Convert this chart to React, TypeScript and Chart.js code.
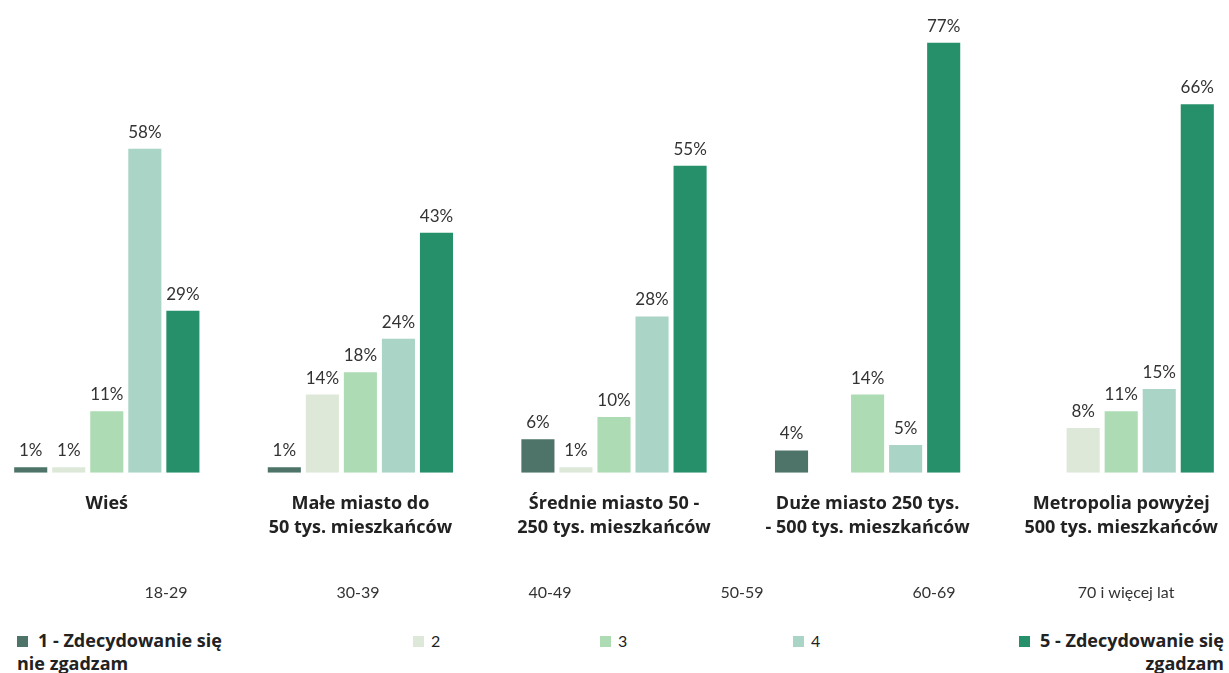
import React, { useEffect, useRef } from "react";
import { Chart, registerables } from "chart.js";

Chart.register(...registerables);

// ---- data ----
const CATEGORIES: string[][] = [
  ["Wieś"],
  ["Małe miasto do", "50 tys. mieszkańców"],
  ["Średnie miasto 50 -", "250 tys. mieszkańców"],
  ["Duże miasto 250 tys.", "- 500 tys. mieszkańców"],
  ["Metropolia powyżej", "500 tys. mieszkańców"],
];
const SERIES_NAMES = [
  "1 - Zdecydowanie się\nnie zgadzam",
  "2",
  "3",
  "4",
  "5 - Zdecydowanie się\nzgadzam",
];
const S1 = [1, 1, 6, 4, null];
const S2 = [1, 14, 1, null, 8];
const S3 = [11, 18, 10, 14, 11];
const S4 = [58, 24, 28, 5, 15];
const S5 = [29, 43, 55, 77, 66];
const AGE_LABELS = ["18-29", "30-39", "40-49", "50-59", "60-69", "70 i więcej lat"];

// ---- styles ----
const COLORS = ["#4e7469", "#dde8d8", "#addbb3", "#a9d4c6", "#26906a"];
const LEGEND_BOLD = [true, false, false, false, true];
const LEGEND_LEFT = [17, 413, 600, 793];

const valueLabels = {
  id: "valueLabels",
  afterDatasetsDraw(chart: any) {
    const ctx = chart.ctx;
    ctx.save();
    ctx.font = "17px Lato";
    ctx.fillStyle = "#333333";
    ctx.textAlign = "center";
    ctx.textBaseline = "alphabetic";
    chart.data.datasets.forEach((ds: any, di: number) => {
      const meta = chart.getDatasetMeta(di);
      meta.data.forEach((el: any, i: number) => {
        const v = ds.data[i];
        if (v === null || v === undefined) return;
        ctx.fillText(v + "%", el.x, el.y - 11);
      });
    });
    ctx.restore();
  },
};

export default function App() {
  const ref = useRef<HTMLCanvasElement>(null);

  useEffect(() => {
    if (!ref.current) return;
    const series = [S1, S2, S3, S4, S5];
    const chart = new Chart(ref.current, {
      type: "bar",
      data: {
        labels: CATEGORIES,
        datasets: series.map((d, i) => ({
          label: SERIES_NAMES[i],
          data: d,
          backgroundColor: COLORS[i],
          borderWidth: 0,
          categoryPercentage: 0.75,
          barPercentage: 0.87,
        })),
      },
      options: {
        animation: false,
        responsive: true,
        maintainAspectRatio: false,
        layout: { padding: { top: 26, bottom: 0, left: 0, right: 0 } },
        plugins: {
          legend: { display: false },
          tooltip: { enabled: false },
        },
        scales: {
          x: {
            position: "bottom",
            grid: { display: false, drawTicks: false },
            border: { display: false },
            ticks: {
              padding: 19,
              color: "#222222",
              font: { family: "Open Sans", size: 18, weight: "bold", lineHeight: 24 / 18 },
              maxRotation: 0,
              autoSkip: false,
            },
          },
          x2: {
            type: "linear",
            position: "bottom",
            offset: false,
            min: -0.969,
            max: 5.635,
            grid: { display: false, drawTicks: false, offset: false },
            border: { display: false },
            afterBuildTicks(axis: any) {
              axis.ticks = AGE_LABELS.map((_, i) => ({ value: i }));
            },
            ticks: {
              padding: 24,
              color: "#333333",
              font: { family: "Lato", size: 16 },
              callback: (v: any) => AGE_LABELS[v as number] ?? "",
            },
          },
          y: {
            display: false,
            min: 0,
            max: 80,
          },
        },
      },
      plugins: [valueLabels],
    });
    return () => chart.destroy();
  }, []);

  return (
    <div style={{ position: "fixed", left: 0, top: 0, width: 1229, height: 673, overflow: "hidden", background: "#fff" }}>
      <div style={{ position: "absolute", left: -20, top: 0, width: 1268, height: 626 }}>
        <canvas ref={ref} />
      </div>
      {SERIES_NAMES.map((name, i) => {
        const last = i === SERIES_NAMES.length - 1;
        const style: React.CSSProperties = {
          position: "absolute",
          top: 629,
          whiteSpace: "pre-line",
          fontFamily: LEGEND_BOLD[i] ? "Open Sans" : "Lato",
          fontWeight: LEGEND_BOLD[i] ? 700 : 400,
          fontSize: LEGEND_BOLD[i] ? 18 : 16,
          lineHeight: "23px",
          color: "#222222",
          textAlign: last ? "right" : "left",
        };
        if (last) style.right = 5;
        else style.left = LEGEND_LEFT[i];
        return (
          <div key={i} style={style}>
            <span
              style={{
                display: "inline-block",
                width: 11,
                height: 11,
                background: COLORS[i],
                marginRight: LEGEND_BOLD[i] ? 10 : 7,
                verticalAlign: "0px",
              }}
            />
            {name}
          </div>
        );
      })}
    </div>
  );
}
